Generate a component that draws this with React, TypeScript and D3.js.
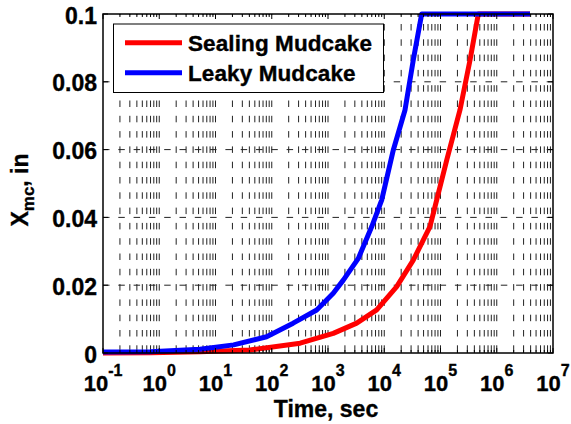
import React from "react";
import * as d3 from "d3";

const W = 571;
const H = 424;

// Leaky Mudcake (blue)
const leakyTime = [0.1, 0.7, 5.3, 21, 81, 240, 630, 1240, 1870, 3460, 6000, 9000, 14500, 23400, 32800, 46300, 3.9e6];
const leakyX = [0.0003, 0.0004, 0.0011, 0.0024, 0.0048, 0.0088, 0.0127, 0.0176, 0.0215, 0.0279, 0.0373, 0.0451, 0.0599, 0.0717, 0.0864, 0.1, 0.1];

// Sealing Mudcake (red)
const sealingTime = [0.1, 0.7, 5.3, 41, 320, 1240, 3240, 7340, 16650, 32800, 65000, 129000, 222000, 335000, 470000, 3.9e6];
const sealingX = [0, 0.0001, 0.0004, 0.0009, 0.0029, 0.0058, 0.0088, 0.0127, 0.0196, 0.0274, 0.0373, 0.0569, 0.0717, 0.0864, 0.1, 0.1];

const xTickExponents = [-1, 0, 1, 2, 3, 4, 5, 6, 7];
const yTicks = [0, 0.02, 0.04, 0.06, 0.08, 0.1];
const yTickLabels = ["0", "0.02", "0.04", "0.06", "0.08", "0.1"];
const seriesNames = ["Sealing Mudcake", "Leaky Mudcake"];
const seriesColors = ["#ff0000", "#0000ff"];

const FONT = "'Liberation Sans', Arial, Helvetica, sans-serif";

export default function App() {
  const left = 103, right = 553, top = 14, bottom = 353;
  const x = d3.scaleLog().domain([0.1, 1e7]).range([left, right]);
  const y = d3.scaleLinear().domain([0, 0.1]).range([bottom, top]);

  const minorTicks: number[] = [];
  for (let e = -1; e < 7; e++) {
    for (let k = 2; k <= 9; k++) minorTicks.push(k * Math.pow(10, e));
  }
  const majorTicks = xTickExponents.map((e) => Math.pow(10, e));
  const gridX = [...majorTicks.slice(1, -1), ...minorTicks];

  const line = d3
    .line<[number, number]>()
    .x((d) => x(d[0]))
    .y((d) => y(d[1]));

  const sealing = sealingTime.map((t, i) => [t, sealingX[i]] as [number, number]);
  const leaky = leakyTime.map((t, i) => [t, leakyX[i]] as [number, number]);

  const gridStyle = {
    stroke: "#222",
    strokeWidth: 1,
    strokeDasharray: "6.5,8.8",
  };
  const txt = { fontWeight: "bold" as const, stroke: "#000", strokeWidth: 0.35 };

  return (
    <svg width={W} height={H} style={{ position: "absolute", left: 0, top: 0, background: "#fff" }} fontFamily={FONT}>
      <rect x={0} y={0} width={W} height={H} fill="#fff" />
      {/* vertical grid */}
      {gridX.map((t, i) => (
        <line key={"gx" + i} x1={x(t)} x2={x(t)} y1={top} y2={bottom} {...gridStyle} strokeDashoffset={5.3} />
      ))}
      {/* horizontal grid */}
      {yTicks.slice(1, -1).map((v, i) => (
        <line key={"gy" + i} x1={left} x2={right} y1={y(v)} y2={y(v)} {...gridStyle} strokeDashoffset={0} />
      ))}
      {/* curves */}
      <path d={line(sealing) || ""} fill="none" stroke={seriesColors[0]} strokeWidth={5} strokeLinejoin="round" />
      <path d={line(leaky) || ""} fill="none" stroke={seriesColors[1]} strokeWidth={5} strokeLinejoin="round" />
      {/* ticks */}
      {majorTicks.map((t, i) => (
        <g key={"mt" + i}>
          <line x1={x(t)} x2={x(t)} y1={bottom} y2={bottom - 5} stroke="#000" strokeWidth={1} />
          <line x1={x(t)} x2={x(t)} y1={top} y2={top + 5} stroke="#000" strokeWidth={1} />
        </g>
      ))}
      {minorTicks.map((t, i) => (
        <g key={"nt" + i}>
          <line x1={x(t)} x2={x(t)} y1={bottom} y2={bottom - 3} stroke="#000" strokeWidth={1} />
          <line x1={x(t)} x2={x(t)} y1={top} y2={top + 3} stroke="#000" strokeWidth={1} />
        </g>
      ))}
      {yTicks.map((v, i) => (
        <g key={"yt" + i}>
          <line x1={left} x2={left + 5} y1={y(v)} y2={y(v)} stroke="#000" strokeWidth={1} />
          <line x1={right} x2={right - 5} y1={y(v)} y2={y(v)} stroke="#000" strokeWidth={1} />
        </g>
      ))}
      {/* box */}
      <rect x={left} y={top} width={right - left} height={bottom - top} fill="none" stroke="#000" strokeWidth={1.5} />
      {/* y tick labels */}
      {yTicks.map((v, i) => (
        <text key={"yl" + i} x={97} y={y(v) + 9.5} textAnchor="end" fontSize={23} {...txt}>
          {yTickLabels[i]}
        </text>
      ))}
      {/* x tick labels */}
      {xTickExponents.map((e, i) => (
        <text key={"xl" + i} x={x(Math.pow(10, e))} y={391} textAnchor="middle" fontSize={22} {...txt}>
          <tspan>10</tspan>
          <tspan dy={-15} fontSize={16}>{String(e)}</tspan>
        </text>
      ))}
      {/* axis titles */}
      <text x={(left + right) / 2 - 2} y={417} textAnchor="middle" fontSize={23} {...txt}>
        Time, sec
      </text>
      <text transform="translate(28,190) rotate(-90)" textAnchor="middle" fontSize={23} {...txt}>
        X<tspan dy={6} fontSize={17}>mc</tspan>
        <tspan dy={-6}>, in</tspan>
      </text>
      {/* legend */}
      <rect x={113.5} y={24} width={270} height={68.5} fill="#fff" stroke="#000" strokeWidth={1} />
      {seriesNames.map((name, i) => {
        const ly = 42.7 + i * 30;
        return (
          <g key={"lg" + i}>
            <line x1={125} x2={182} y1={ly} y2={ly} stroke={seriesColors[i]} strokeWidth={5} />
            <text x={188} y={ly + 8.5} fontSize={22.5} letterSpacing={0.1} {...txt}>
              {name}
            </text>
          </g>
        );
      })}
    </svg>
  );
}
